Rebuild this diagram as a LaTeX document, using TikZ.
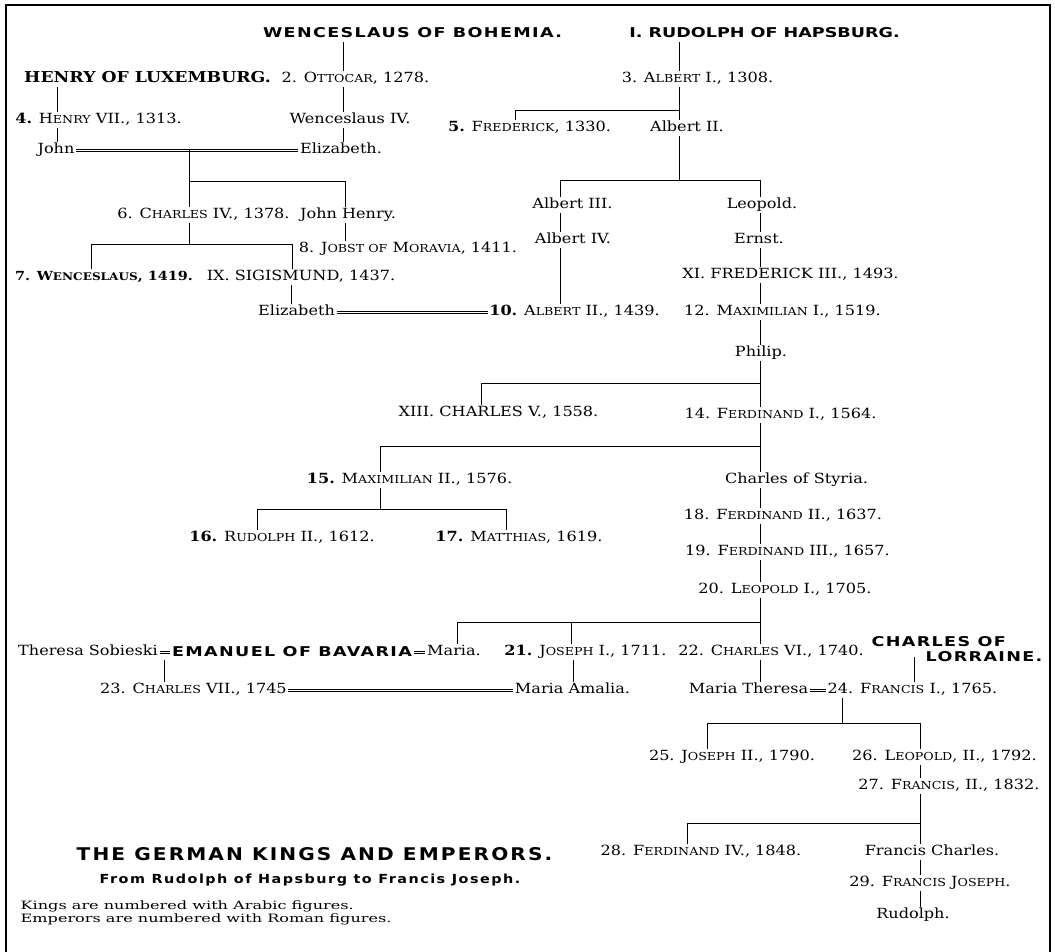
\documentclass[tikz,border=0pt]{standalone}
\usepackage{fontspec}
\setmainfont[FakeStretch=1.15]{DejaVu Serif}
\newfontfamily\headfont[FakeStretch=1.3,LetterSpace=10]{DejaVu Sans}
\newfontfamily\titlefont[FakeStretch=1.15,LetterSpace=12]{DejaVu Sans}
\newfontfamily\notefont[FakeStretch=1.4]{DejaVu Serif}
\usetikzlibrary{positioning,calc}

% small capitals, made by hand
\newcommand{\lc}[1]{{\fontsize{11}{13}\selectfont #1}}

\begin{document}
\begin{tikzpicture}[
  x=1pt, y=-1pt,
  every node/.style={inner sep=1.5pt},
  who/.style={font=\fontsize{14}{16}\selectfont, text height=10pt, text depth=3pt},
  house/.style={font=\headfont\bfseries\fontsize{13.5}{15}\selectfont, text height=10pt, text depth=2pt},
  clar/.style={font=\bfseries\fontsize{15}{17}\selectfont, text height=10pt, text depth=2pt},
  title/.style={font=\titlefont\bfseries\fontsize{17.5}{20}\selectfont},
  subtitle/.style={font=\titlefont\bfseries\fontsize{12.5}{14}\selectfont},
  note/.style={font=\notefont\fontsize{11.5}{10.5}\selectfont, align=left, anchor=west},
  kin/.style={line width=0.8pt},
  wed/.style={draw=none,
    postaction={draw, line width=0.7pt, transform canvas={yshift=1.1pt}},
    postaction={draw, line width=0.7pt, transform canvas={yshift=-1.1pt}}}
]
\useasboundingbox (0,0) rectangle (1055,952);
\draw[line width=1.4pt] (6,5) rectangle (1050,960);

% Luxemburg and Bohemia
\node[house] (wb) at (412.5,34) {WENCESLAUS OF BOHEMIA.};
\node[clar] (hl) at (147.5,79) {HENRY OF LUXEMBURG.};
\node[who] (ott) at (355.5,79) {2. O\lc{TTOCAR}, 1278.};
\node[who] (h7) at (98.5,120) {\textbf{4.} H\lc{ENRY} VII., 1313.};
\node[who] (w4) at (350,120) {Wenceslaus IV.};
\node[who] (john) at (56,150) {John};
\node[who] (el1) at (341,150) {Elizabeth.};
\node[who] (c4) at (203.5,215) {6. C\lc{HARLES} IV., 1378.};
\node[who] (jh) at (348,215) {John Henry.};
\node[who] (jo8) at (408,249) {8. J\lc{OBST OF} M\lc{ORAVIA}, 1411.};
\node[who] (w7) at (104,277) {\bfseries\fontsize{12.5}{14}\selectfont 7. W{\fontsize{10.5}{12}\selectfont ENCESLAUS}, 1419.};
\node[who] (s9) at (301,277) {IX. SIGISMUND, 1437.};
\node[who] (el2) at (296.5,312) {Elizabeth};

% Hapsburg
\node[house] (rh) at (764.5,34) {\addfontfeature{LetterSpace=0}I. RUDOLPH OF HAPSBURG.};
\node[who] (a1) at (697.5,79) {3. A\lc{LBERT} I., 1308.};
\node[who] (f5) at (529.5,128) {\textbf{5.} F\lc{REDERICK}, 1330.};
\node[who] (a2) at (687,128) {Albert II.};
\node[who] (a3) at (572.5,205) {Albert III.};
\node[who] (leo) at (762,205) {Leopold.};
\node[who] (a4) at (573,240) {Albert IV.};
\node[who] (ern) at (759,240) {Ernst.};
\node[who] (f3) at (790.5,275) {XI. FREDERICK III., 1493.};
\node[who] (a10) at (574.5,312) {\textbf{10.} A\lc{LBERT} II., 1439.};
\node[who] (m12) at (782.5,312) {12. M\lc{AXIMILIAN} I., 1519.};
\node[who] (phi) at (761,353) {Philip.};
\node[who] (c5) at (498.5,413) {XIII. CHARLES V., 1558.};
\node[who] (f14) at (780.5,415) {14. F\lc{ERDINAND} I., 1564.};
\node[who] (m15) at (409.5,480) {\textbf{15.} M\lc{AXIMILIAN} II., 1576.};
\node[who] (cs) at (796.5,480) {Charles of Styria.};
\node[who] (f18) at (783,516) {18. F\lc{ERDINAND} II., 1637.};
\node[who] (r16) at (282,538) {\textbf{16.} R\lc{UDOLPH} II., 1612.};
\node[who] (m17) at (519,538) {\textbf{17.} M\lc{ATTHIAS}, 1619.};
\node[who] (f19) at (787.5,552) {19. F\lc{ERDINAND} III., 1657.};
\node[who] (l20) at (785,590) {20. L\lc{EOPOLD} I., 1705.};

% Bavaria and Lorraine
\node[who] (ts) at (88,652) {Theresa Sobieski};
\node[house] (eb) at (292,652) {EMANUEL OF BAVARIA};
\node[who] (mar) at (454,652) {Maria.};
\node[who] (j21) at (585.5,652) {\textbf{21.} J\lc{OSEPH} I., 1711.};
\node[who] (c22) at (771,652) {22. C\lc{HARLES} VI., 1740.};
\node[house, align=left] (cl) at (957,657) {CHARLES OF\\\hspace*{54pt}LORRAINE.};
\node[who] (c23) at (193.5,690) {23. C\lc{HARLES} VII., 1745};
\node[who] (ma) at (572.5,690) {Maria Amalia.};
\node[who] (mt) at (748.5,690) {Maria Theresa};
\node[who] (f24) at (912.5,690) {24. F\lc{RANCIS} I., 1765.};
\node[who] (j25) at (732,757) {25. J\lc{OSEPH} II., 1790.};
\node[who] (l26) at (944.5,757) {26. L\lc{EOPOLD}, II., 1792.};
\node[who] (f27) at (949,786) {27. F\lc{RANCIS}, II., 1832.};
\node[who] (f28) at (701,852) {28. F\lc{ERDINAND} IV., 1848.};
\node[who] (fch) at (932,852) {Francis Charles.};
\node[who] (fj) at (930,883) {29. F\lc{RANCIS} J\lc{OSEPH}.};
\node[who] (rud) at (913,915) {Rudolph.};

% title and key
\node[title] (ttl) at (314.5,854) {THE GERMAN KINGS AND EMPERORS.};
\node[subtitle] (sub) at (310,880) {From Rudolph of Hapsburg to Francis Joseph.};
\node[note] (key) at (19,913) {Kings are numbered with Arabic figures.\\Emperors are numbered with Roman figures.};

% lines of descent
\coordinate (kL) at (57,0);
\coordinate (kB) at (343,0);
\coordinate (kM) at (189,0);
\coordinate (jJH) at (345,181);
\coordinate (j7) at (91,244);
\coordinate (j9) at (292,244);
\coordinate (kE) at (291,0);
\draw[kin] (hl.south -| kL) -- (h7.north -| kL);
\draw[kin] (h7.south -| kL) -- (john.north -| kL);
\draw[kin] (wb.south -| kB) -- (ott.north -| kB);
\draw[kin] (ott.south -| kB) -- (w4.north -| kB);
\draw[kin] (w4.south -| kB) -- (el1.north -| kB);
\draw[wed] (john.east) -- (el1.west);
\draw[kin] (john.east -| kM) -- (c4.north -| kM);
\draw[kin] (kM |- jJH) -- (jJH) -- (jh.north -| jJH);
\draw[kin] (c4.south -| kM) -- (kM |- j7);
\draw[kin] (w7.north -| j7) -- (j7) -- (j9) -- (s9.north -| j9);
\draw[kin] (jh.south -| jJH) -- (jo8.north -| jJH);
\draw[kin] (s9.south -| kE) -- (el2.north -| kE);
\draw[wed] (el2.east) -- (a10.west);

\coordinate (kH) at (679,0);
\coordinate (jF5) at (515,110);
\coordinate (jA3) at (560,180);
\coordinate (jLe) at (760,180);
\coordinate (kT) at (760,0);
\draw[kin] (rh.south -| kH) -- (a1.north -| kH);
\draw[kin] (a1.south -| kH) -- (a2.north -| kH);
\draw[kin] (kH |- jF5) -- (jF5) -- (f5.north -| jF5);
\draw[kin] (a2.south -| kH) -- (kH |- jA3);
\draw[kin] (a3.north -| jA3) -- (jA3) -- (jLe) -- (leo.north -| jLe);
\draw[kin] (a3.south -| jA3) -- (a4.north -| jA3);
\draw[kin] (a4.south -| jA3) -- (a10.north -| jA3);
\foreach \a/\b in {leo/ern, ern/f3, f3/m12, m12/phi, phi/f14, f14/cs, cs/f18, f18/f19, f19/l20, l20/c22, c22/mt}
  \draw[kin] (\a.south -| kT) -- (\b.north -| kT);

\coordinate (jC5) at (481,383);
\coordinate (j15) at (380,446);
\coordinate (j16) at (257,509);
\coordinate (j17) at (506,509);
\coordinate (jMa) at (457,622);
\coordinate (jJo) at (571,622);
\draw[kin] (kT |- jC5) -- (jC5) -- (c5.north -| jC5);
\draw[kin] (kT |- j15) -- (j15) -- (m15.north -| j15);
\draw[kin] (m15.south -| j15) -- (j15 |- j16);
\draw[kin] (r16.north -| j16) -- (j16) -- (j17) -- (m17.north -| j17);
\draw[kin] (kT |- jMa) -- (jMa) -- (mar.north -| jMa);
\draw[kin] (jJo) -- (j21.north -| jJo);

\coordinate (kTS) at (164,0);
\coordinate (kJo) at (573,0);
\coordinate (kCL) at (914,0);
\coordinate (j24) at (842,723);
\coordinate (jJ25) at (707,723);
\coordinate (jL26) at (920,723);
\coordinate (kR) at (920,0);
\coordinate (j28) at (687,823);
\draw[wed] (ts.east) -- (eb.west);
\draw[wed] (eb.east) -- (mar.west);
\draw[kin] (ts.south -| kTS) -- (c23.north -| kTS);
\draw[wed] (c23.east) -- (ma.west);
\draw[kin] (j21.south -| kJo) -- (ma.north -| kJo);
\draw[kin] (cl.center -| kCL) -- (f24.north -| kCL);
\draw[wed] (mt.east) -- (f24.west);
\draw[kin] (f24.south -| j24) -- (j24);
\draw[kin] (j25.north -| jJ25) -- (jJ25) -- (jL26) -- (l26.north -| jL26);
\foreach \a/\b in {l26/f27, f27/fch, fch/fj, fj/rud}
  \draw[kin] (\a.south -| kR) -- (\b.north -| kR);
\draw[kin] (kR |- j28) -- (j28) -- (f28.north -| j28);
\end{tikzpicture}
\end{document}
